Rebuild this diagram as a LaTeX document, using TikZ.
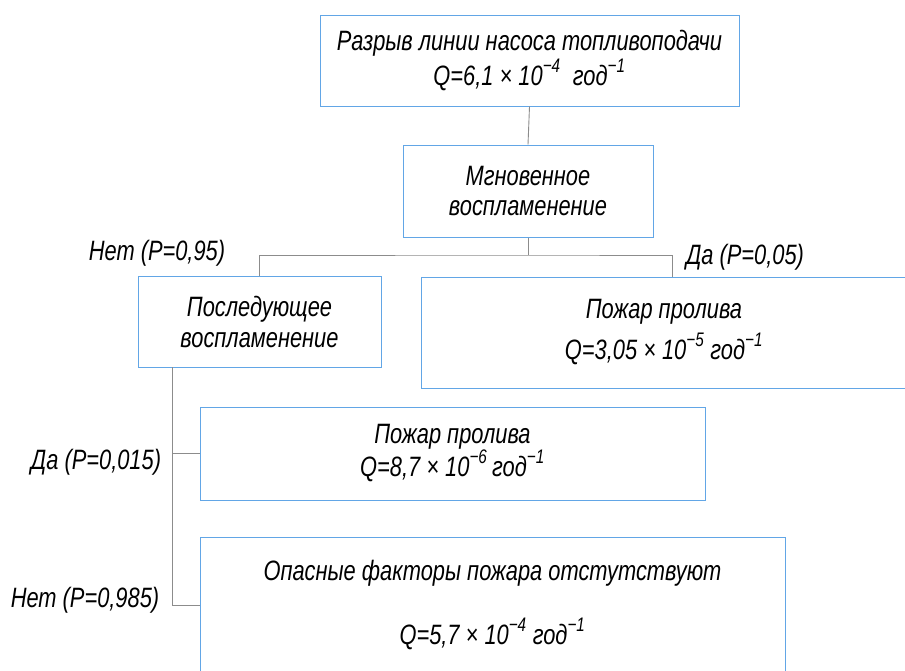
\documentclass[tikz,border=0pt]{standalone}
\usepackage{fontspec}
\setmainfont{Liberation Sans}[FakeStretch=0.78]
\definecolor{boxblue}{HTML}{62A6E6}
\definecolor{linegray}{HTML}{8C8C8C}
\newcommand{\sq}[1]{\raisebox{0.15em}{\textsuperscript{−#1}}}
\begin{document}
\begin{tikzpicture}[x=1pt,y=-1pt,
  every node/.style={font=\fontsize{28}{32}\selectfont\itshape, inner sep=0pt},
  box/.style={draw=boxblue, line width=1pt, align=center},
  conn/.style={draw=linegray, line width=0.9pt},
  lbl/.style={}]
\useasboundingbox (0,0) rectangle (905,670);
\fill[white] (0,0) rectangle (905,670);
\node[box, minimum width=419, minimum height=91, font=\fontsize{28}{35}\selectfont\itshape] (b1) at (529.5,60.5)
  {Разрыв линии насоса топливоподачи\\Q=6,1 × 10\sq{4}\ \ год\sq{1}};
\node[box, minimum width=250, minimum height=92, font=\fontsize{28}{30}\selectfont\itshape] (b2) at (528,191)
  {Мгновенное\\воспламенение};
\node[box, minimum width=243, minimum height=91, font=\fontsize{28}{31}\selectfont\itshape] (b3) at (259.5,321.5)
  {Последующее\\воспламенение};
\node[box, minimum width=486, minimum height=111, font=\fontsize{28}{41}\selectfont\itshape] (b4) at (664,332.5)
  {Пожар пролива\\Q=3,05 × 10\sq{5}\ год\sq{1}};
\node[box, minimum width=505, minimum height=93, font=\fontsize{28}{33}\selectfont\itshape] (b5) at (452.5,453.5)
  {Пожар пролива\\Q=8,7 × 10\sq{6}\,год\sq{1}};
\node[box, minimum width=585, minimum height=136, font=\fontsize{28}{64}\selectfont\itshape] (b6) at (492.5,605)
  {Опасные факторы пожара отстутствуют\\Q=5,7 × 10\sq{4}\ год\sq{1}};
\node[lbl] (l1) at (157,253) {Нет (P=0,95)};
\node[lbl] (l2) at (745,257) {Да (P=0,05)};
\node[lbl] (l3) at (96,462) {Да (P=0,015)};
\node[lbl] (l4) at (85,600) {Нет (P=0,985)};
\coordinate (j) at (528,255);
\coordinate (r) at (672,277);
\coordinate (ttop) at (172,367);
\coordinate (tbot) at (172,605);
\draw[conn] (b1.south) -- (b2.north);
\draw[conn] (b2.south) -- (j);
\draw[conn] (b3.north) |- (j) -| (r);
\draw[conn] (ttop) -- (tbot) -- (tbot -| b6.west);
\draw[conn] (ttop |- b5.west) -- (b5.west);
\end{tikzpicture}
\end{document}
